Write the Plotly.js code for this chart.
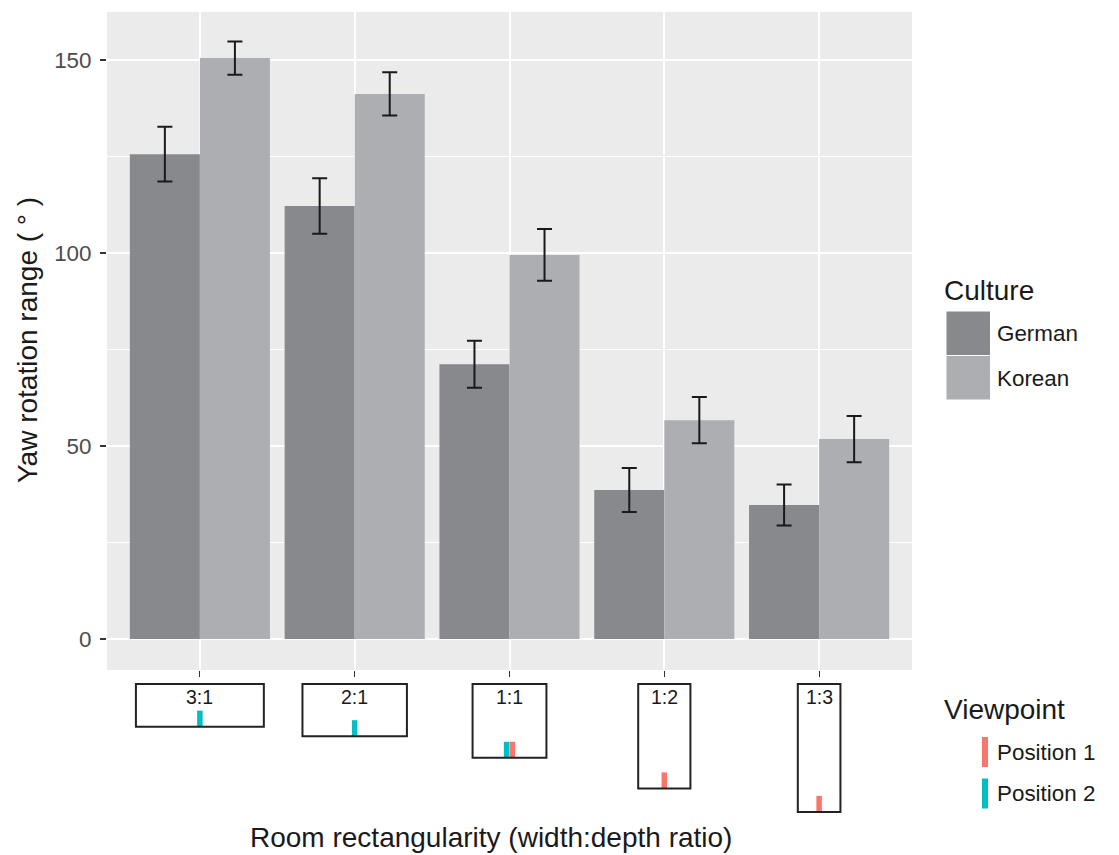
<!DOCTYPE html>
<html>
<head>
<meta charset="utf-8">
<script src="https://cdn.plot.ly/plotly-3.0.1.min.js"></script>
<style>html,body{margin:0;padding:0;background:#fff;}#chart{width:1119px;height:855px;}</style>
</head>
<body>
<div id="chart"></div>
<script>
// ---- data ----
const categories = ['3:1', '2:1', '1:1', '1:2', '1:3'];
const germanMean = [125.6, 112.2, 71.2, 38.6, 34.7];
const germanErr  = [7.1, 7.2, 6.1, 5.7, 5.3];
const koreanMean = [150.5, 141.2, 99.5, 56.7, 51.8];
const koreanErr  = [4.3, 5.6, 6.7, 6.0, 6.0];
const roomWidthRatio = [3, 2, 1, 1, 1];
const roomDepthRatio = [1, 1, 1, 2, 3];
const position1Rooms = ['1:1', '1:2', '1:3'];
const position2Rooms = ['3:1', '2:1', '1:1'];
const yTickVals = [0, 50, 100, 150];
const cultureNames = ['German', 'Korean'];
const viewpointNames = ['Position 1', 'Position 2'];

// ---- style / layout constants ----
const W = 1119, H = 855;
const M = {l: 107, r: 207, t: 12, b: 40};
const plotW = W - M.l - M.r, plotH = H - M.t - M.b;
const xRange = [0.4, 5.6];
const ppu = plotW / (xRange[1] - xRange[0]);      // px per x unit
const mainBottomPx = 670, roomTopPx = 684;
const paperBottomPx = H - M.b;
const colGerman = '#88898d', colKorean = '#adaeb2';
const colPos1 = '#f8766d', colPos2 = '#00bfc4';
const FONT = 'Liberation Sans, Arial, Helvetica, sans-serif';
const TITLE_SIZE = 28, TEXT_SIZE = 22.4;
const roomArea = 0.2276; // in x-units^2 (equal floor area drawing)

const xp = px => (px - M.l) / plotW;
const yp = py => (paperBottomPx - py) / plotH;

const xIdx = categories.map((c, i) => i + 1);

const traces = [
  {type: 'bar', name: cultureNames[0], x: xIdx, y: germanMean,
   marker: {color: colGerman}, showlegend: false, hoverinfo: 'y',
   error_y: {type: 'data', array: germanErr, color: '#1a1a1a', thickness: 2, width: 7.5}},
  {type: 'bar', name: cultureNames[1], x: xIdx, y: koreanMean,
   marker: {color: colKorean}, showlegend: false, hoverinfo: 'y',
   error_y: {type: 'data', array: koreanErr, color: '#1a1a1a', thickness: 2, width: 7.5}}
];

// room geometry
const roomW = categories.map((c, i) => Math.sqrt(roomArea * roomWidthRatio[i] / roomDepthRatio[i]));
const roomD = categories.map((c, i) => Math.sqrt(roomArea * roomDepthRatio[i] / roomWidthRatio[i]));

const shapes = [];
const annotations = [];
// grey panel of the main plot
shapes.push({type: 'rect', xref: 'paper', yref: 'paper', x0: 0, x1: 1, y0: yp(mainBottomPx), y1: 1,
  fillcolor: '#ebebeb', line: {width: 0}, layer: 'below'});

categories.forEach((c, i) => {
  shapes.push({type: 'rect', xref: 'x2', yref: 'y2', x0: xIdx[i] - roomW[i] / 2, x1: xIdx[i] + roomW[i] / 2,
    y0: 0, y1: roomD[i], line: {color: '#222222', width: 2}, fillcolor: 'rgba(0,0,0,0)', layer: 'above'});
  annotations.push({xref: 'x2', yref: 'y2', x: xIdx[i], y: 0, yanchor: 'middle', yshift: -13,
    text: c, showarrow: false, font: {family: FONT, size: 19.5, color: '#1a1a1a'}});
});

// viewpoint markers
const markerHalfPx = 8, sideOffsetPx = 2.9;
function vpTrace(rooms, other, color, name, sign) {
  const xs = [], ys = [];
  rooms.forEach(r => {
    const i = categories.indexOf(r);
    const shared = other.indexOf(r) >= 0;
    xs.push(xIdx[i] + (shared ? sign * sideOffsetPx / ppu : 0));
    ys.push(roomD[i] - markerHalfPx / ppu);
  });
  return {type: 'scatter', mode: 'markers', x: xs, y: ys, xaxis: 'x2', yaxis: 'y2', name: name,
    showlegend: false, hoverinfo: 'name', cliponaxis: false,
    marker: {symbol: 'line-ns', size: 11.5, color: color, line: {color: color, width: 5.5}}};
}
traces.push(vpTrace(position2Rooms, position1Rooms, colPos2, viewpointNames[1], -1));
traces.push(vpTrace(position1Rooms, position2Rooms, colPos1, viewpointNames[0], 1));

// axis titles
annotations.push({xref: 'paper', yref: 'paper', x: xp(491), y: yp(837), text: 'Room rectangularity (width:depth ratio)',
  showarrow: false, xanchor: 'center', yanchor: 'middle', font: {family: FONT, size: TITLE_SIZE, color: '#1a1a1a'}});
annotations.push({xref: 'paper', yref: 'paper', x: xp(27), y: yp(340), text: 'Yaw rotation range ( ° )', textangle: -90,
  showarrow: false, xanchor: 'center', yanchor: 'middle', font: {family: FONT, size: TITLE_SIZE, color: '#1a1a1a'}});

// manual legends
function legendText(txt, px, py, size) {
  annotations.push({xref: 'paper', yref: 'paper', x: xp(px), y: yp(py), text: txt, showarrow: false,
    xanchor: 'left', yanchor: 'middle', font: {family: FONT, size: size, color: '#1a1a1a'}});
}
legendText('Culture', 942, 290, TITLE_SIZE);
[colGerman, colKorean].forEach((col, k) => {
  const top = 311.5 + k * 44.5;
  shapes.push({type: 'rect', xref: 'paper', yref: 'paper', x0: xp(946.5), x1: xp(990),
    y0: yp(top + 43.5), y1: yp(top), fillcolor: col, line: {width: 0}});
  legendText(cultureNames[k], 995, top + 22, TEXT_SIZE);
});
legendText('Viewpoint', 942, 709, TITLE_SIZE);
[colPos1, colPos2].forEach((col, k) => {
  const top = 737 + k * 41.5;
  shapes.push({type: 'rect', xref: 'paper', yref: 'paper', x0: xp(982), x1: xp(988),
    y0: yp(top + 30), y1: yp(top), fillcolor: col, line: {width: 0}});
  legendText(viewpointNames[k], 995, top + 15, TEXT_SIZE);
});

const yRange = [-8.03, 162.44];
const layout = {
  width: W, height: H,
  margin: M,
  paper_bgcolor: '#ffffff', plot_bgcolor: 'rgba(0,0,0,0)',
  font: {family: FONT, color: '#1a1a1a'},
  barmode: 'group', bargap: 0.095, bargroupgap: 0,
  showlegend: false,
  xaxis: {range: xRange, tickvals: xIdx, ticktext: categories, showticklabels: false,
    ticks: 'outside', ticklen: 6, tickwidth: 1.2, tickcolor: '#333333',
    showgrid: true, gridcolor: '#ffffff', gridwidth: 2, zeroline: false, showline: false,
    anchor: 'y', fixedrange: true},
  yaxis: {domain: [yp(mainBottomPx), 1], range: yRange, tickvals: yTickVals,
    ticks: 'outside', ticklen: 6, tickwidth: 1.2, tickcolor: '#333333', ticklabelstandoff: 4,
    tickfont: {family: FONT, size: TEXT_SIZE, color: '#4d4d4d'},
    showgrid: true, gridcolor: '#ffffff', gridwidth: 2, zeroline: false, showline: false,
    minor: {dtick: 25, tick0: 0, showgrid: true, gridcolor: '#ffffff', gridwidth: 1, ticks: ''},
    anchor: 'x', fixedrange: true},
  xaxis2: {range: xRange, anchor: 'y2', visible: false, showgrid: false, zeroline: false, fixedrange: true},
  yaxis2: {domain: [0, yp(680)], range: [(paperBottomPx - roomTopPx) / ppu, -(roomTopPx - 680) / ppu],
    visible: false, showgrid: false, zeroline: false, anchor: 'x2', fixedrange: true},
  shapes: shapes,
  annotations: annotations
};

Plotly.newPlot('chart', traces, layout, {displayModeBar: false, staticPlot: true});
</script>
</body>
</html>
